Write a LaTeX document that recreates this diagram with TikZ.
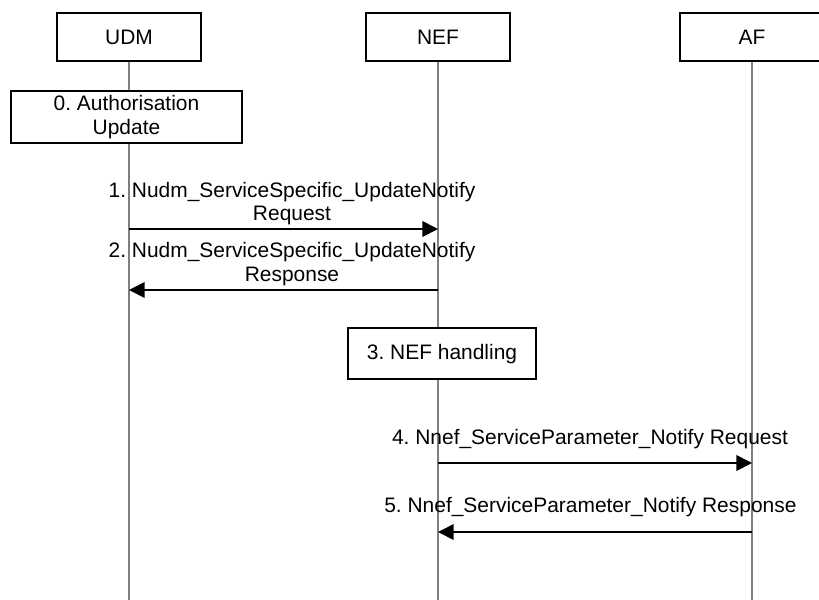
\documentclass[tikz,border=0pt]{standalone}
\usepackage{fontspec}
\setmainfont{Liberation Sans}
\usetikzlibrary{arrows.meta,positioning}
\definecolor{LifeGray}{HTML}{7F7F7F}
\newcommand{\sigfont}{\fontsize{14.9}{16.8}\selectfont\frenchspacing}

\begin{document}
\begin{tikzpicture}[
  entity/.style={draw,line width=1.2pt,fill=white,minimum width=3.6cm,minimum height=1.2cm,font=\sigfont},
  action/.style={draw,line width=1.2pt,fill=white,align=center,inner sep=0pt,font=\sigfont},
  lifeline/.style={LifeGray,line width=0.9pt},
  msg/.style={line width=1.2pt,-{Triangle[length=3.9mm,width=3.9mm]}},
  msglabel/.style={align=center,inner sep=0pt,font=\sigfont}]
  \useasboundingbox (0,0) rectangle (20.475,-14.975);

  \node[entity] (udm) at (3.225,-0.925) {UDM};
  \node[entity] (nef) at (10.95,-0.925) {NEF};
  \node[entity] (af) at (18.8,-0.925) {AF};

  \draw[lifeline] (udm.south) -- (udm.south |- 0,-15);
  \draw[lifeline] (nef.south) -- (nef.south |- 0,-15);
  \draw[lifeline] (af.south) -- (af.south |- 0,-15);

  \node[action,minimum width=5.775cm,minimum height=1.3cm] (auth) at (3.1625,-2.925) {0. Authorisation\\Update};
  \node[msglabel] (m1) at (7.3,-5.09) {1. Nudm\_ServiceSpecific\_UpdateNotify\\Request};
  \draw[msg] (udm |- 0,-5.725) -- (nef |- 0,-5.725);
  \node[msglabel] (m2) at (7.3,-6.6) {2. Nudm\_ServiceSpecific\_UpdateNotify\\Response};
  \draw[msg] (nef |- 0,-7.25) -- (udm |- 0,-7.25);
  \node[action,minimum width=4.7cm,minimum height=1.275cm] (handling) at (11.05,-8.84) {3. NEF handling};
  \node[msglabel] (m4) at (14.75,-10.975) {4. Nnef\_ServiceParameter\_Notify Request};
  \draw[msg] (nef |- 0,-11.575) -- (af |- 0,-11.575);
  \node[msglabel] (m5) at (14.76,-12.675) {5. Nnef\_ServiceParameter\_Notify Response};
  \draw[msg] (af |- 0,-13.3) -- (nef |- 0,-13.3);
\end{tikzpicture}
\end{document}
